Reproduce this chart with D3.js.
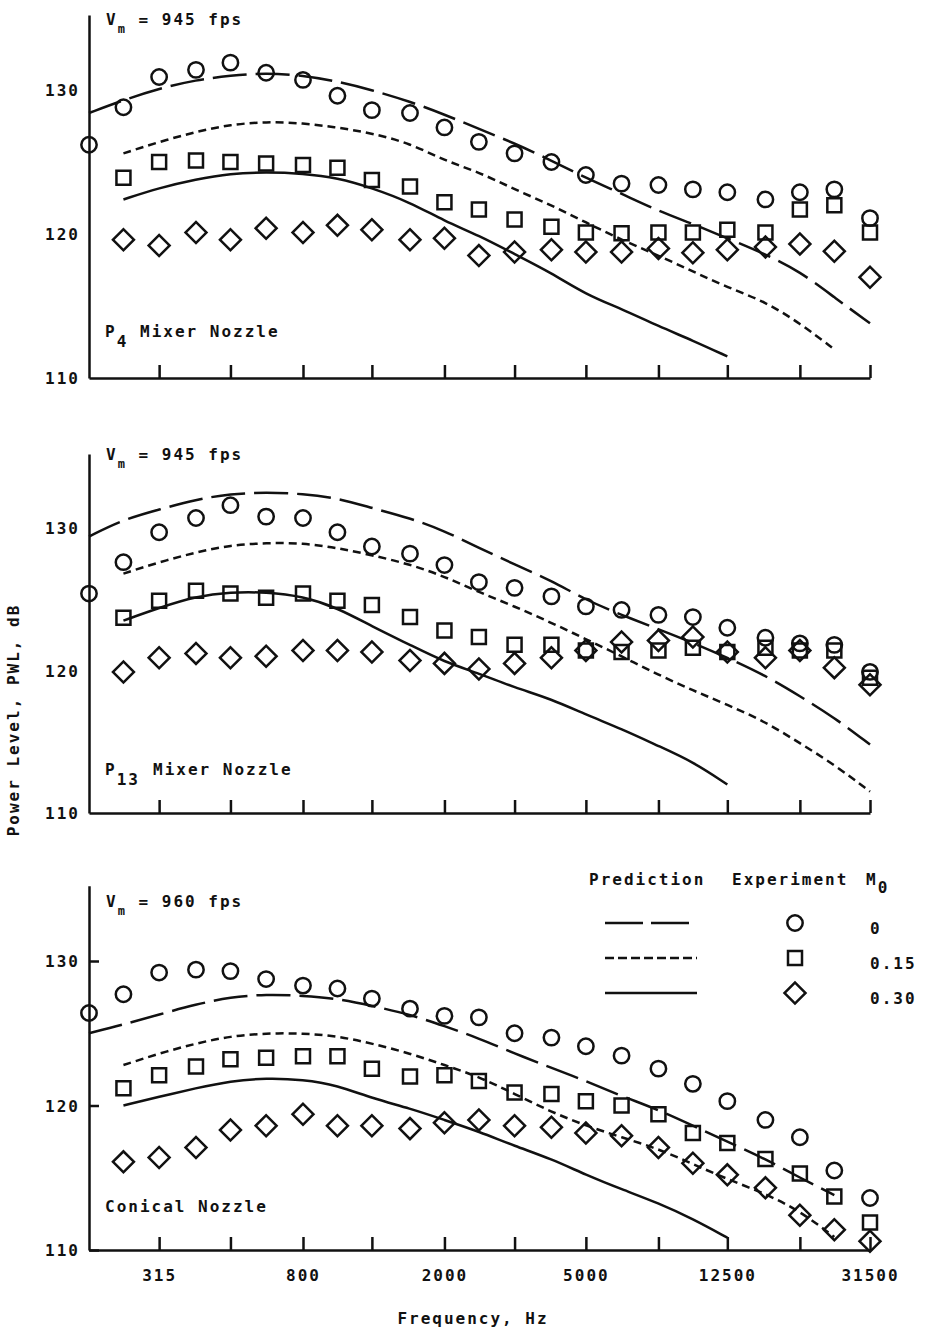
<!DOCTYPE html>
<html>
<head>
<meta charset="utf-8">
<script src="https://cdn.jsdelivr.net/npm/d3@7"></script>
<style>
  body { margin: 0; background: #fff; }
  text, tspan { font-family: "DejaVu Sans Mono", monospace; font-weight: bold; fill: #111; letter-spacing: 2px; }
</style>
</head>
<body>
<div id="chart"></div>
<script>
// one-third octave band centre frequencies, Hz
var freqs = [200,250,315,400,500,630,800,1000,1250,1600,2000,2500,3150,4000,5000,6300,8000,10000,12500,16000,20000,25000,31500];
var tickFreqs = [315,500,800,1250,2000,3150,5000,8000,12500,20000,31500];
var tickLabels = ["315","800","2000","5000","12500","31500"];
var yTicks = [110,120,130];
var machLabels = ["0","0.15","0.30"];

// P4 mixer nozzle
var p4Circle  = [126.2,128.8,130.9,131.4,131.9,131.2,130.7,129.6,128.6,128.4,127.4,126.4,125.6,125.0,124.1,123.5,123.4,123.1,122.9,122.4,122.9,123.1,121.1];
var p4Square  = [null,123.9,125.0,125.1,125.0,124.9,124.8,124.6,123.75,123.3,122.2,121.7,121.0,120.5,120.1,120.05,120.1,120.1,120.3,120.1,121.7,122.0,120.1];
var p4Diamond = [null,119.6,119.2,120.1,119.6,120.4,120.1,120.6,120.3,119.6,119.7,118.5,118.75,118.9,118.75,118.75,119.0,118.7,118.9,119.1,119.3,118.8,117.0];
var p4Long    = [128.4,129.3,130.1,130.7,131.0,131.2,131.0,130.6,130.0,129.2,128.3,127.3,126.3,125.1,123.9,122.8,121.6,120.7,119.7,118.6,117.4,115.6,113.8];
var p4Short   = [null,125.6,126.4,127.1,127.6,127.8,127.7,127.4,127.0,126.3,125.1,124.3,123.1,122.0,120.8,119.6,118.5,117.4,116.3,115.3,113.8,112.0,null];
var p4Solid   = [null,122.4,123.2,123.8,124.2,124.3,124.2,123.9,123.2,122.2,120.9,119.9,118.6,117.3,115.8,114.8,113.6,112.6,111.5,null,null,null,null];

// P13 mixer nozzle
var p13Circle  = [125.4,127.6,129.7,130.7,131.6,130.8,130.7,129.7,128.7,128.2,127.4,126.2,125.8,125.2,124.5,124.25,123.9,123.75,123.0,122.3,121.9,121.8,119.9];
var p13Square  = [null,123.7,124.9,125.6,125.4,125.1,125.4,124.9,124.6,123.75,122.8,122.35,121.8,121.8,121.4,121.3,121.4,121.6,121.3,121.6,121.4,121.4,119.5];
var p13Diamond = [null,119.9,120.9,121.2,120.9,121.0,121.4,121.4,121.3,120.7,120.5,120.1,120.5,120.9,121.4,122.0,122.1,122.35,121.3,120.9,121.4,120.2,119.0];
var p13Long    = [129.4,130.6,131.3,132.0,132.4,132.5,132.4,132.1,131.4,130.7,129.8,128.6,127.45,126.3,124.95,123.9,122.9,121.95,120.9,119.65,118.2,116.7,114.8];
var p13Short   = [null,126.8,127.6,128.3,128.8,128.95,128.95,128.6,128.1,127.45,126.6,125.5,124.5,123.35,122.2,121.0,119.7,118.6,117.6,116.4,114.9,113.4,111.5];
var p13Solid   = [null,123.5,124.4,125.2,125.5,125.5,125.2,124.4,123.1,121.8,120.6,119.8,118.8,118.0,116.9,115.9,114.7,113.6,112.0,null,null,null,null];

// conical nozzle
var conCircle  = [126.4,127.7,129.2,129.4,129.3,128.75,128.3,128.1,127.4,126.7,126.2,126.1,125.0,124.7,124.1,123.45,122.55,121.5,120.3,119.0,117.8,115.5,113.6];
var conSquare  = [null,121.2,122.1,122.7,123.2,123.3,123.4,123.4,122.55,122.0,122.1,121.7,120.9,120.8,120.3,120.0,119.4,118.1,117.4,116.3,115.3,113.7,111.9];
var conDiamond = [null,116.1,116.4,117.1,118.3,118.6,119.4,118.6,118.6,118.4,118.8,119.0,118.6,118.5,118.1,117.9,117.1,116.0,115.2,114.3,112.4,111.4,110.6];
var conLong    = [125.0,125.6,126.3,127.0,127.5,127.7,127.6,127.4,126.9,126.3,125.5,124.65,123.6,122.6,121.7,120.65,119.7,118.6,117.5,116.3,115.0,113.8,null];
var conShort   = [null,122.8,123.6,124.3,124.8,125.0,125.0,124.8,124.3,123.6,122.8,122.0,120.8,119.55,118.6,117.8,117.0,115.95,114.9,113.9,112.7,110.9,null];
var conSolid   = [null,120.0,120.6,121.2,121.7,121.9,121.8,121.4,120.5,119.8,119.0,118.2,117.2,116.3,115.2,114.2,113.25,112.15,110.85,null,null,null,null];

// settings for window
var w = 925;
var h = 1328;
var fs = "16px";
var dashes = ["34,9", "8,5", null];
var symbols = [d3.symbolCircle, d3.symbolSquare, d3.symbolSquare];
var symSize = [185, 196, 220];
var symRot = [0, 0, 45];

var svg = d3.select("#chart").append("svg").attr("width",w).attr("height",h);

var xScale = d3.scaleLog().domain([200,31500]).range([89,870]);

var panels = [
  { y110:378,  y130:90,  speed:"945", name:"P", sub:"4",  rest:"Mixer Nozzle", restX:140, nameY:337,  speedY:25,
    series:[p4Circle,p4Square,p4Diamond], preds:[p4Long,p4Short,p4Solid], yTick:0, labels:false },
  { y110:813,  y130:528, speed:"945", name:"P", sub:"13", rest:"Mixer Nozzle", restX:153, nameY:775,  speedY:460,
    series:[p13Circle,p13Square,p13Diamond], preds:[p13Long,p13Short,p13Solid], yTick:0, labels:false },
  { y110:1250, y130:961, speed:"960", name:"Conical Nozzle", sub:null, rest:null, nameY:1212, speedY:907,
    series:[conCircle,conSquare,conDiamond], preds:[conLong,conShort,conSolid], yTick:-10, labels:true }
];

function drawPanel(p) {
  var k = (p.y110 - p.y130) / 20;
  var yScale = d3.scaleLinear().domain([110,135.2]).range([p.y110, p.y110 - 25.2*k]);
  var g = svg.append("g");

  // axes
  var xAxis = d3.axisBottom(xScale).tickValues(tickFreqs).tickSize(-13).tickSizeOuter(0).tickPadding(20)
    .tickFormat(function(d) { return (p.labels && tickLabels.indexOf(String(d)) >= 0) ? String(d) : ""; });
  var yAxis = d3.axisLeft(yScale).tickValues(yTicks).tickSize(p.yTick).tickSizeOuter(0).tickPadding(9);

  var gx = g.append("g").attr("transform","translate(0,"+p.y110+")").call(xAxis);
  var gy = g.append("g").attr("transform","translate(89,0)").call(yAxis);
  [gx, gy].forEach(function(a) {
    a.selectAll("path, line").attr("stroke","#111").attr("stroke-width",2.5);
    a.selectAll("text").style("font-size",fs).attr("fill","#111");
  });
  gy.selectAll("text").attr("dy","0.35em");

  // prediction curves
  p.preds.forEach(function(arr, s) {
    var line = d3.line()
      .defined(function(d) { return d != null; })
      .x(function(d,i) { return xScale(freqs[i]); })
      .y(function(d) { return yScale(d); })
      .curve(d3.curveBasis);
    g.append("path").attr("d", line(arr)).attr("fill","none").attr("stroke","#111")
      .attr("stroke-width",2.5).attr("stroke-dasharray", dashes[s]);
  });

  // experiment points
  p.series.forEach(function(arr, s) {
    g.selectAll(null).data(arr.map(function(v,i) { return {f:freqs[i], v:v}; }).filter(function(d) { return d.v != null; }))
      .enter().append("path")
      .attr("d", d3.symbol().type(symbols[s]).size(symSize[s]))
      .attr("transform", function(d) { return "translate("+xScale(d.f)+","+yScale(d.v)+") rotate("+symRot[s]+")"; })
      .attr("fill","none").attr("stroke","#111").attr("stroke-width",2.5);
  });

  // speed label
  var sp = g.append("text").attr("x",106).attr("y",p.speedY).style("font-size",fs);
  sp.append("tspan").text("V");
  sp.append("tspan").attr("dy",8).style("font-size","12px").text("m");
  sp.append("tspan").attr("dy",-8).text(" = " + p.speed + " fps");

  // nozzle label
  var nm = g.append("text").attr("x",105).attr("y",p.nameY).style("font-size",fs);
  nm.append("tspan").text(p.name);
  if (p.sub) {
    nm.append("tspan").attr("dy",10).text(p.sub);
    nm.append("tspan").attr("x",p.restX).attr("dy",-10).text(p.rest);
  }
  return g;
}

panels.forEach(drawPanel);

// legend
var lg = svg.append("g");
lg.append("text").attr("x",589).attr("y",885).style("font-size",fs).text("Prediction");
lg.append("text").attr("x",732).attr("y",885).style("font-size",fs).text("Experiment");
var m0 = lg.append("text").attr("x",866).attr("y",885).style("font-size",fs);
m0.append("tspan").text("M");
m0.append("tspan").attr("dy",8).text("0");
var legY = [923, 958, 993];
var legDash = ["38,8", "9,4", null];
machLabels.forEach(function(lab, i) {
  lg.append("line").attr("x1",605).attr("x2",697).attr("y1",legY[i]).attr("y2",legY[i])
    .attr("stroke","#111").attr("stroke-width",2.5).attr("stroke-dasharray",legDash[i]);
  lg.append("path").attr("d", d3.symbol().type(symbols[i]).size(symSize[i]))
    .attr("transform","translate(795,"+legY[i]+") rotate("+symRot[i]+")")
    .attr("fill","none").attr("stroke","#111").attr("stroke-width",2.5);
  lg.append("text").attr("x",870).attr("y",legY[i]+11).style("font-size",fs).text(lab);
});

// axis titles
svg.append("text").attr("x",473).attr("y",1324).attr("text-anchor","middle").style("font-size",fs).text("Frequency,  Hz");
svg.append("text").attr("transform","translate(19,720) rotate(-90)").attr("text-anchor","middle").style("font-size",fs).text("Power Level, PWL,  dB");
</script>
</body>
</html>
